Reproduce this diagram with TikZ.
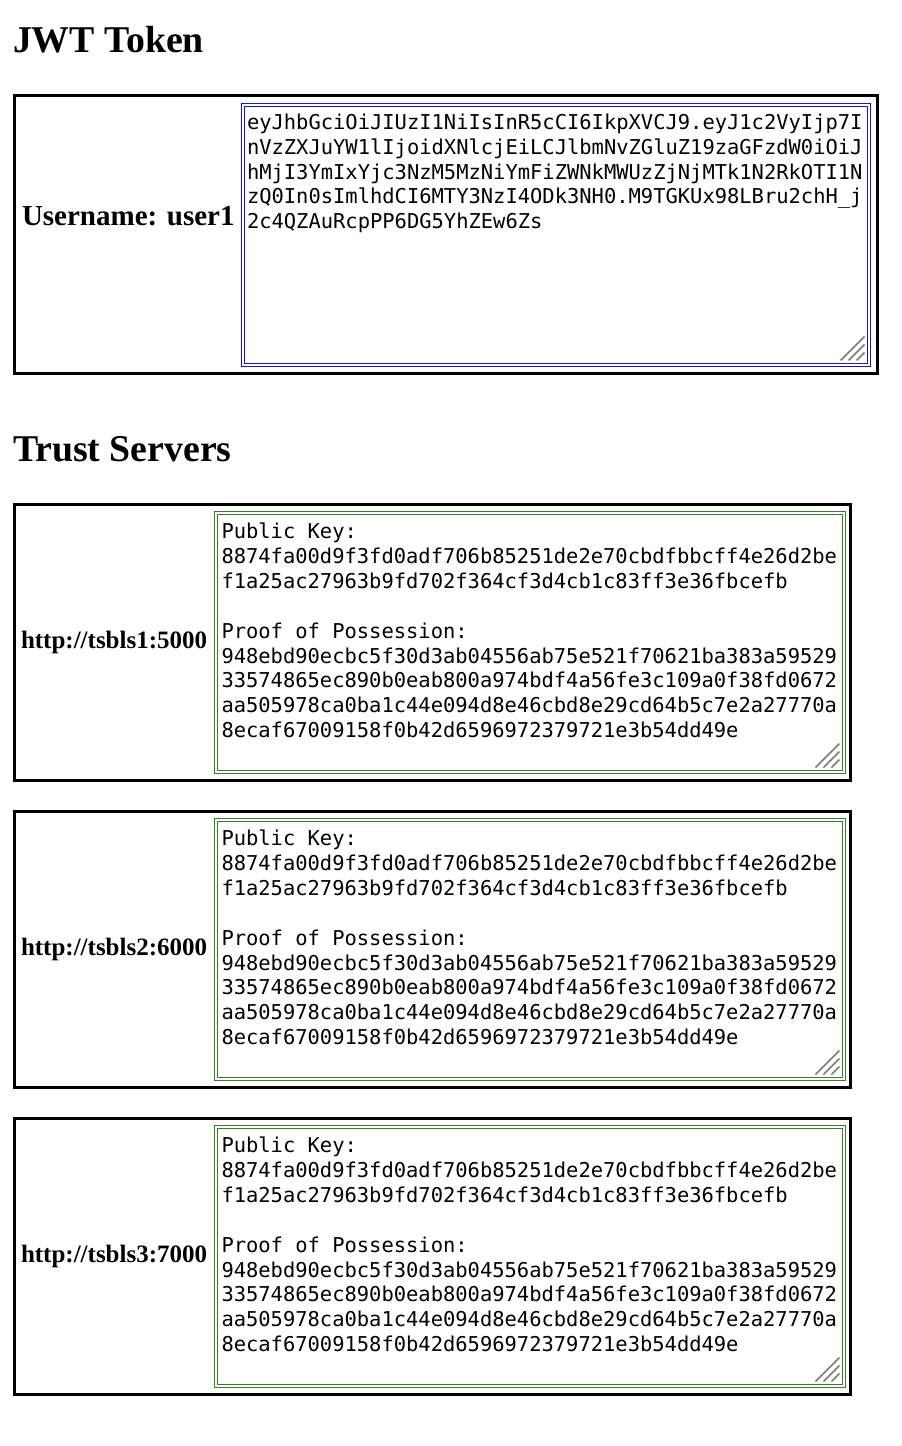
\documentclass[tikz,border=0pt]{standalone}
\usepackage{fontspec}
\setmainfont{Liberation Serif}
\newfontfamily\monofont{DejaVu Sans Mono}
\definecolor{taBlue}{RGB}{20,20,220}
\definecolor{taGreen}{RGB}{50,130,35}
\definecolor{gripGray}{RGB}{125,125,125}
\tikzset{
  heading/.style={anchor=base west, inner sep=0pt, outer sep=0pt, font=\fontsize{37.8}{40}\selectfont\bfseries},
  userlabel/.style={anchor=base west, inner sep=0pt, outer sep=0pt, font=\fontsize{29}{32}\selectfont\bfseries},
  srvlabel/.style={anchor=base west, inner sep=0pt, outer sep=0pt, font=\fontsize{25}{28}\selectfont\bfseries},
  outerbox/.style={draw=black, line width=3pt, rectangle, inner sep=0pt, outer sep=0pt},
  taline/.style={draw=#1, line width=1.2pt, rectangle, inner sep=0pt, outer sep=0pt},
  monoline/.style={anchor=base west, inner sep=0pt, outer sep=0pt, font=\fontsize{20.45}{24.8}\selectfont\monofont},
  grip/.style={draw=gripGray, line width=1.6pt}
}
\begin{document}
\begin{tikzpicture}[x=1pt,y=-1pt]
\useasboundingbox[fill=white] (0,0) rectangle (902,1446);

% ---------- JWT Token ----------
\node[heading] (jwthead) at (13,52.7) {JWT Token};
\node[outerbox, minimum width=863pt, minimum height=278pt] (jwtbox) at (446,234.5) {};
\node[userlabel] (userlbl) at (22,225) {Username: user1};
\node[taline=taBlue, minimum width=629pt, minimum height=263pt] (jwtta) at (556,235) {};
\node[taline=taBlue, minimum width=623pt, minimum height=257pt] (jwttain) at (556,235) {};
\foreach \k/\t in {0/eyJhbGciOiJIUzI1NiIsInR5cCI6IkpXVCJ9.eyJ1c2VyIjp7I,
                   1/nVzZXJuYW1lIjoidXNlcjEiLCJlbmNvZGluZ19zaGFzdW0iOiJ,
                   2/hMjI3YmIxYjc3NzM5MzNiYmFiZWNkMWUzZjNjMTk1N2RkOTI1N,
                   3/zQ0In0sImlhdCI6MTY3NzI4ODk3NH0.M9TGKUx98LBru2chH\_j,
                   4/2c4QZAuRcpPP6DG5YhZEw6Zs}
  \node[monoline] (jwtline\k) at (247,129.5+24.75*\k) {\t};
\foreach \g in {8,16,24}
  \draw[grip] ([shift={(-3-\g,-3)}]jwttain.south east) -- ([shift={(-3,-3-\g)}]jwttain.south east);

% ---------- Trust Servers ----------
\node[heading] (trusthead) at (13,461) {Trust Servers};
\foreach \i/\port in {1/5000,2/6000,3/7000}{
  \begin{scope}[shift={(0,307*\i-307)}]
    \node[outerbox, minimum width=836pt, minimum height=276pt] (srvbox\i) at (432.5,642.5) {};
    \node[srvlabel] (srvlbl\i) at (21,648) {http://tsbls\i:\port};
    \node[taline=taGreen, minimum width=631pt, minimum height=262pt] (srvta\i) at (530,642.5) {};
    \node[taline=taGreen, minimum width=625pt, minimum height=256pt] (srvtain\i) at (530,642.5) {};
    \foreach \k/\t in {0/{Public Key:},
                       1/8874fa00d9f3fd0adf706b85251de2e70cbdfbbcff4e26d2be,
                       2/f1a25ac27963b9fd702f364cf3d4cb1c83ff3e36fbcefb,
                       4/{Proof of Possession:},
                       5/948ebd90ecbc5f30d3ab04556ab75e521f70621ba383a59529,
                       6/33574865ec890b0eab800a974bdf4a56fe3c109a0f38fd0672,
                       7/aa505978ca0ba1c44e094d8e46cbd8e29cd64b5c7e2a27770a,
                       8/8ecaf67009158f0b42d6596972379721e3b54dd49e}
      \node[monoline] (srv\i line\k) at (221.5,538.5+24.9*\k) {\t};
    \foreach \g in {8,16,24}
      \draw[grip] ([shift={(-3-\g,-3)}]srvtain\i.south east) -- ([shift={(-3,-3-\g)}]srvtain\i.south east);
  \end{scope}
}
\end{tikzpicture}
\end{document}
